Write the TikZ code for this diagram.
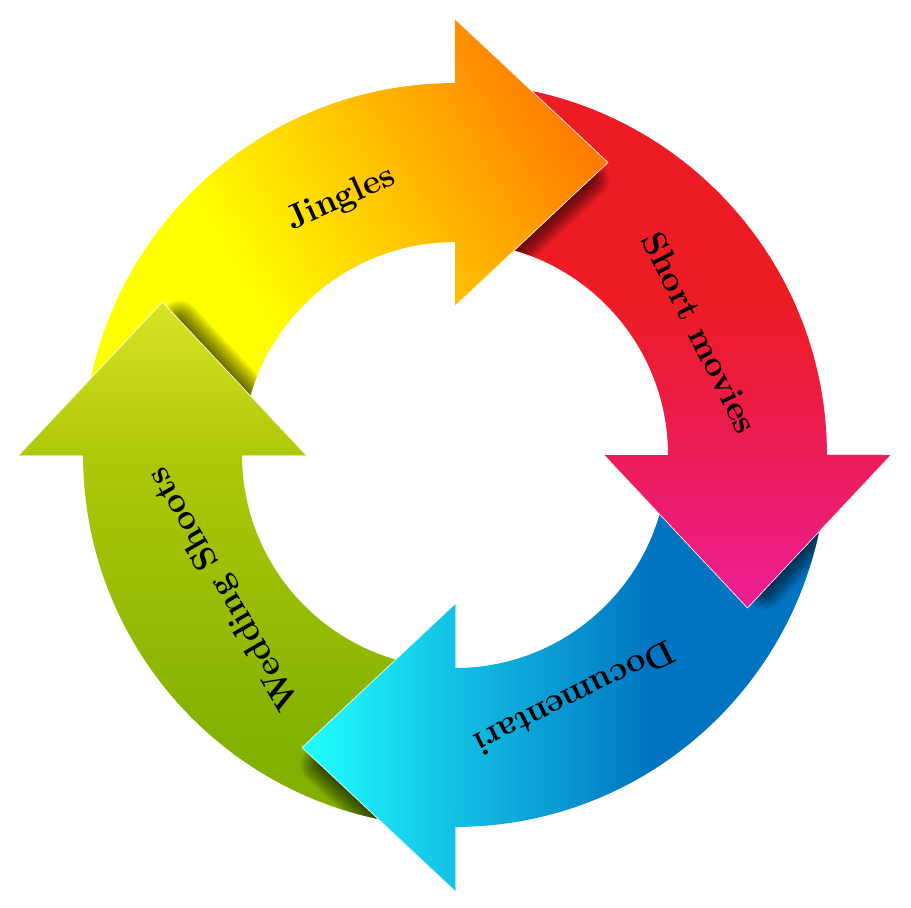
\documentclass[tikz,border=0pt]{standalone}
\usepackage{fontspec}
\definecolor{jA}{HTML}{FFFF00}
\definecolor{jB}{HTML}{FFD400}
\definecolor{jC}{HTML}{FF7000}
\definecolor{rA}{HTML}{ED1C24}
\definecolor{rB}{HTML}{EC1C58}
\definecolor{rC}{HTML}{EC1E96}
\definecolor{bA}{HTML}{0073C1}
\definecolor{bB}{HTML}{12C0E4}
\definecolor{bC}{HTML}{22FFFF}
\definecolor{gA}{HTML}{81B000}
\definecolor{gB}{HTML}{AEC808}
\definecolor{gC}{HTML}{D9E326}
% gradient fill inside the current clip: solid A, A->B, B->C, solid C along direction #1
\newcommand\gradfill[7]{%
  \begin{scope}[transform canvas={rotate=#1}]
    \fill[#5] (-700,-700) rectangle ({#2+1},700);
    \shade[left color=#5, right color=#6] (#2,-700) rectangle (#3,700);
    \shade[left color=#6, right color=#7] ({#3-0.5},-700) rectangle (#4,700);
    \fill[#7] ({#4-0.5},-700) rectangle (700,700);
  \end{scope}}
\newcommand\fillJ{\gradfill{30}{-100}{28}{300}{jA}{jB}{jC}}
\newcommand\fillR{\gradfill{-90}{-150}{0}{153}{rA}{rB}{rC}}
\newcommand\fillB{\gradfill{180}{-200}{0}{153}{bA}{bB}{bC}}
\newcommand\fillG{\gradfill{90}{-300}{0}{153}{gA}{gB}{gC}}
% arrow outlines
\newcommand\clipJ{\clip (180:372) arc[start angle=180,end angle=90,radius=7.44cm] -- (0,436) -- (153,292.5) -- (0,149) -- (0,213) arc[start angle=90,end angle=180,radius=4.26cm] -- cycle;}
\newcommand\clipR{\clip (90:372) arc[start angle=90,end angle=0,radius=7.44cm] -- (436,0) -- (292.5,-153) -- (149,0) -- (213,0) arc[start angle=0,end angle=90,radius=4.26cm] -- cycle;}
\newcommand\clipB{\clip (0:372) arc[start angle=0,end angle=-90,radius=7.44cm] -- (0,-436) -- (-153,-292.5) -- (0,-149) -- (0,-213) arc[start angle=-90,end angle=0,radius=4.26cm] -- cycle;}
\newcommand\clipG{\clip (-90:372) arc[start angle=-90,end angle=-180,radius=7.44cm] -- (-436,0) -- (-292.5,153) -- (-149,0) -- (-213,0) arc[start angle=180,end angle=270,radius=4.26cm] -- cycle;}
% heads
\newcommand\headJ{\clip (0,436) -- (153,292.5) -- (0,149) -- cycle;}
\newcommand\headR{\clip (436,0) -- (292.5,-153) -- (149,0) -- cycle;}
\newcommand\headB{\clip (0,-436) -- (-153,-292.5) -- (0,-149) -- cycle;}
\newcommand\headG{\clip (-436,0) -- (-292.5,153) -- (-149,0) -- cycle;}
\tikzset{
  lbl/.style={font=\fontsize{19.5}{21}\selectfont\bfseries, text=black, inner sep=0pt},
  shadowline/.style={black, opacity=0.06, line cap=round},
  edgeline/.style={white, line width=0.35pt}
}
\begin{document}
\begin{tikzpicture}[x=0.02cm,y=0.02cm]
\useasboundingbox[fill=white] (-455,-452) rectangle (456,455);
% bands
\begin{scope}\clipJ\fillJ\end{scope}
\begin{scope}\clipR\fillR\end{scope}
\begin{scope}\clipB\fillB\end{scope}
\begin{scope}\clipG\fillG\end{scope}
% shadows cast by the heads on the following bands
\begin{scope}
\clip (90:372) arc[start angle=90,end angle=0,radius=7.44cm] -- (213,0) arc[start angle=0,end angle=90,radius=4.26cm] -- cycle;
\foreach \w in {3,6,...,39} \draw[shadowline, line width=\w*0.569pt] (134.8,275.4) -- (0,149);
\end{scope}
\begin{scope}
\clip (180:372) arc[start angle=180,end angle=90,radius=7.44cm] -- (0,213) arc[start angle=90,end angle=180,radius=4.26cm] -- cycle;
\foreach \w in {3,6,...,39} \draw[shadowline, line width=\w*0.569pt] (-275.4,134.8) -- (-149,0);
\end{scope}
\begin{scope}
\clip (270:372) arc[start angle=270,end angle=180,radius=7.44cm] -- (-213,0) arc[start angle=180,end angle=270,radius=4.26cm] -- cycle;
\foreach \w in {3,6,...,39} \draw[shadowline, line width=\w*0.569pt] (-134.8,-309.6) -- (0,-436);
\end{scope}
\begin{scope}
\clip (0:372) arc[start angle=0,end angle=-90,radius=7.44cm] -- (0,-213) arc[start angle=-90,end angle=0,radius=4.26cm] -- cycle;
\foreach \w in {3,6,...,39} \draw[shadowline, line width=\w*0.569pt] (309.6,-134.8) -- (436,0);
\end{scope}
% heads on top
\begin{scope}\headJ\fillJ\end{scope}
\begin{scope}\headR\fillR\end{scope}
\begin{scope}\headB\fillB\end{scope}
\begin{scope}\headG\fillG\end{scope}
\draw[edgeline] (0,436) -- (153,292.5) -- (0,149);
\draw[edgeline] (436,0) -- (292.5,-153) -- (149,0);
\draw[edgeline] (0,-436) -- (-153,-292.5) -- (0,-149);
\draw[edgeline] (-436,0) -- (-292.5,153) -- (-149,0);
% labels
\node[lbl, rotate=24] (jingles) at (114:280) {Jingles};
\node[lbl, rotate=-63.5] (short) at (26.5:274) {Short movies};
\node[lbl, rotate=-153.7] (docu) at (-63.7:271) {Documentari};
\node[lbl, rotate=120] (wedding) at (210:266) {Wedding Shoots};
\end{tikzpicture}
\end{document}
